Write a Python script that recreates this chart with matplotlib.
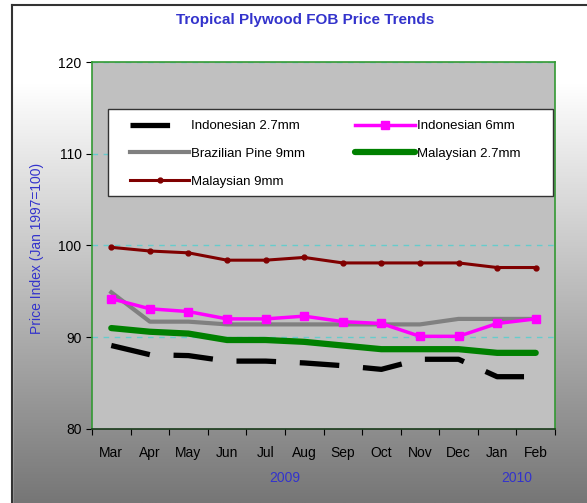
import numpy as np
import matplotlib
matplotlib.use("Agg")
import matplotlib.pyplot as plt
from matplotlib.patches import Rectangle
import matplotlib.transforms as mtransforms

plt.rcParams['font.family'] = ['Liberation Sans', 'DejaVu Sans']

months = ["Mar", "Apr", "May", "Jun", "Jul", "Aug", "Sep", "Oct", "Nov", "Dec", "Jan", "Feb"]
years = ["2009", "2010"]
indo27 = [89.1, 88.1, 88.0, 87.4, 87.4, 87.2, 86.9, 86.5, 87.6, 87.6, 85.7, 85.7]
indo6 = [94.2, 93.1, 92.8, 92.0, 92.0, 92.3, 91.7, 91.5, 90.1, 90.1, 91.5, 92.0]
braz9 = [94.9, 91.7, 91.7, 91.4, 91.4, 91.4, 91.4, 91.4, 91.4, 92.0, 92.0, 92.0]
malay27 = [91.0, 90.6, 90.4, 89.7, 89.7, 89.5, 89.1, 88.7, 88.7, 88.7, 88.3, 88.3]
malay9 = [99.8, 99.4, 99.2, 98.4, 98.4, 98.7, 98.1, 98.1, 98.1, 98.1, 97.6, 97.6]

W, H = 587, 503
fig = plt.figure(figsize=(W / 100, H / 100), dpi=100)

# background gradient
bg = fig.add_axes([0, 0, 1, 1], zorder=-10)
bg.set_axis_off()
grad = np.concatenate([np.full(40, 255.0), np.linspace(255, 118, 216)])
img = np.tile(grad[:, None], (1, 2)) / 255.0
bg.imshow(np.dstack([img, img, img]), aspect='auto', extent=[0, W, 0, H - 5], origin='upper')
bg.add_patch(Rectangle((0, 0), 12, H, color='white', zorder=2))
bg.add_patch(Rectangle((0, H - 5), W, 5, color='white', zorder=2))
bg.plot([12, 12], [0, H - 5], color='#333333', lw=1.5, zorder=3)
bg.plot([12, W], [H - 5, H - 5], color='#333333', lw=1.5, zorder=3)
bg.set_xlim(0, W)
bg.set_ylim(0, H)

# plot area
L, R, T, B = 92, 555, 62, 429
ax = fig.add_axes([L / W, 1 - B / H, (R - L) / W, (B - T) / H])
ax.set_facecolor('#C0C0C0')
x = np.arange(len(months))

ax.set_ylim(80, 120)
ax.set_xlim(-0.5, len(months) - 0.5)
ax.set_yticks([80, 90, 100, 110, 120])
ax.yaxis.grid(True, color='#66CCCC', linestyle=(0, (4, 4)), lw=1.0)
ax.set_axisbelow(True)

l1, = ax.plot(x, indo27, color='black', lw=3.8, dashes=(7.5, 4.5), solid_capstyle='butt', label='Indonesian 2.7mm', zorder=3)
l3, = ax.plot(x, braz9, color='#808080', lw=3.0, label='Brazilian Pine 9mm', zorder=3)
l4, = ax.plot(x, malay27, color='#008000', lw=4.5, solid_capstyle='round', label='Malaysian 2.7mm', zorder=3)
l2, = ax.plot(x, indo6, color='#FF00FF', lw=2.5, marker='s', ms=6, label='Indonesian 6mm', zorder=4)
l5, = ax.plot(x, malay9, color='#800000', lw=2.2, marker='o', ms=3.5, label='Malaysian 9mm', zorder=3)

ax.set_xticks(np.arange(-0.5, len(months), 1.0))
ax.set_xticklabels([])
ax.set_xticks(x, minor=True)
ax.set_xticklabels(months, minor=True, fontsize=10)
ax.tick_params(axis='x', which='minor', length=0, pad=12)
ax.tick_params(axis='x', which='major', length=4, direction='out', color='black')
ax.tick_params(axis='y', labelsize=10, length=4, direction='out')

for s in ['left', 'right', 'top']:
    ax.spines[s].set_color('#339933')
    ax.spines[s].set_linewidth(1.2)
ax.spines['bottom'].set_color('#1a3a1a')
ax.spines['bottom'].set_linewidth(1.2)

trans = mtransforms.blended_transform_factory(ax.transData, fig.transFigure)
ax.text(4.5, 1 - 478 / H, years[0], transform=trans, ha='center', va='center', color='#3333CC', fontsize=10)
ax.text(10.5, 1 - 478 / H, years[1], transform=trans, ha='center', va='center', color='#3333CC', fontsize=10)

fig.text(37 / W, 1 - 248 / H, "Price Index (Jan 1997=100)", rotation=90, ha='center', va='center',
         color='#3333CC', fontsize=10)
fig.text(305 / W, 1 - 20 / H, "Tropical Plywood FOB Price Trends", ha='center', va='center',
         color='#3333CC', fontsize=11, fontweight='bold')

# legend frame
lx0, lx1, ly0, ly1 = 108, 553, 109, 196
def ax_xy(px, py):
    return (px - L) / (R - L), 1 - (py - T) / (B - T)
fx, fy = ax_xy(lx0, ly1)
ax.add_patch(Rectangle((fx, fy), (lx1 - lx0) / (R - L), (ly1 - ly0) / (B - T), transform=ax.transAxes,
                       facecolor='white', edgecolor='#333333', lw=1.0, zorder=4.5))
leg = ax.legend(handles=[l1, l3, l5, l2, l4], ncol=2, loc='upper left',
                bbox_to_anchor=ax_xy(130, 120),
                fontsize=9.5, frameon=False, handlelength=4.5, handletextpad=0.15,
                labelspacing=1.18, borderaxespad=0, columnspacing=3.8, borderpad=0)
leg.set_zorder(5)

fig.savefig('out.png', dpi=100)
